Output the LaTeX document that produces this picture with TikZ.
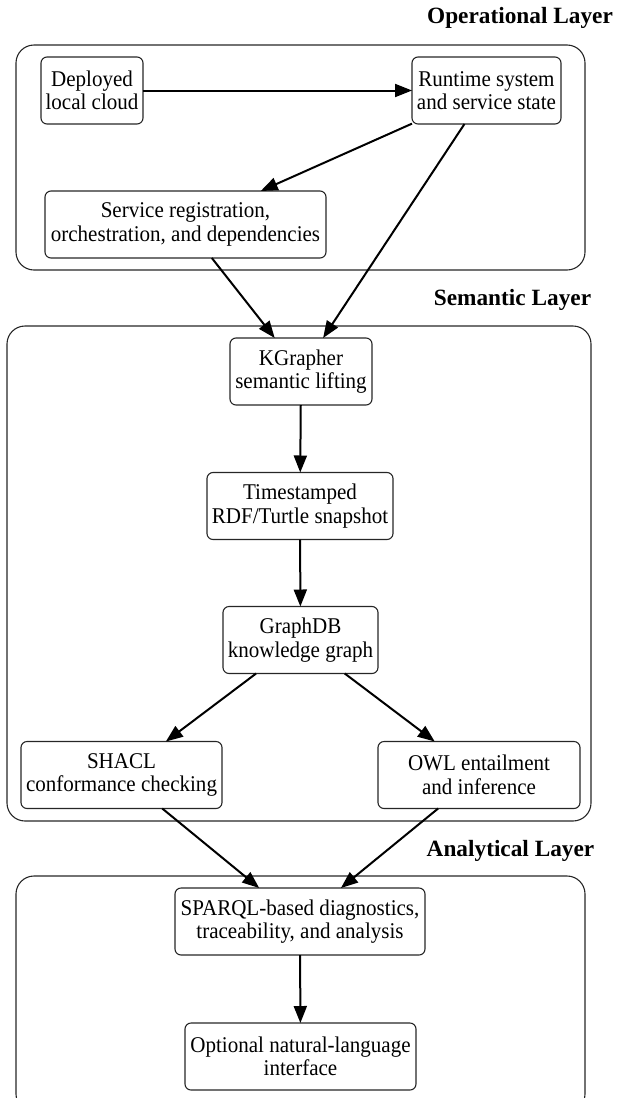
\documentclass[tikz,border=0pt]{standalone}
\usepackage{fontspec}
\setmainfont{Liberation Serif}
\newfontfamily\stagefont{Liberation Serif}[FakeStretch=0.935]
\usetikzlibrary{arrows.meta}

\tikzset{
  stage/.style={draw=black!85, line width=1.1pt, rounded corners=6pt,
    align=center, inner sep=2pt, outer sep=0pt, minimum height=67pt,
    font=\stagefont\fontsize{22.5}{23.5}\selectfont},
  layerbox/.style={draw=black!85, line width=1.1pt, rounded corners=18pt,
    inner sep=0pt, outer sep=0pt},
  layertitle/.style={font=\bfseries\fontsize{23.3}{28}\selectfont, inner sep=0pt},
  flow/.style={line width=2pt, -{Triangle[length=17pt,width=13pt]}},
}

\begin{document}
\begin{tikzpicture}[x=1pt, y=-1pt]
  \useasboundingbox (0,0) rectangle (626,1098);
  \clip (0,0) rectangle (626,1098);

  % layer frames and their titles
  \node[layerbox, minimum width=569pt, minimum height=225pt] (oplayer) at (300.5,157.5) {};
  \node[layerbox, minimum width=584pt, minimum height=495pt] (semlayer) at (299,573.5) {};
  \node[layerbox, minimum width=569pt, minimum height=236pt] (anlayer) at (300.5,994) {};

  \node[layertitle] (optitle)  at (520,18)  {Operational Layer};
  \node[layertitle] (semtitle) at (512.5,300) {Semantic Layer};
  \node[layertitle] (antitle)  at (510.5,851) {Analytical Layer};

  % operational layer
  \node[stage, minimum width=102pt] (deploy)  at (92,90.5)    {Deployed\\local cloud};
  \node[stage, minimum width=149pt] (runtime) at (486.5,90.5) {Runtime system\\and service state};
  \node[stage, minimum width=281pt] (service) at (185.5,224.5) {Service registration,\\orchestration, and dependencies};

  % semantic layer
  \node[stage, minimum width=142pt] (kgr)   at (301,371.5) {KGrapher\\semantic lifting};
  \node[stage, minimum width=186pt] (snap)  at (300,506)   {Timestamped\\RDF/Turtle snapshot};
  \node[stage, minimum width=155pt] (gdb)   at (300.5,640) {GraphDB\\knowledge graph};
  \node[stage, minimum width=201pt] (shacl) at (121.5,775) {SHACL\\conformance checking};
  \node[stage, minimum width=202pt] (owl)   at (479,775)   {OWL entailment\\and inference};

  % analytical layer
  \node[stage, minimum width=250pt] (sparql) at (300,921.5)  {SPARQL-based diagnostics,\\traceability, and analysis};
  \node[stage, minimum width=231pt] (nli)    at (300.5,1056.5) {Optional natural-language\\interface};

  % data flow
  \draw[flow] (deploy) -- (runtime);
  \draw[flow] (runtime) -- (service);
  \draw[flow] (runtime) -- (kgr);
  \draw[flow] (service) -- (kgr);
  \draw[flow] (kgr) -- (snap);
  \draw[flow] (snap) -- (gdb);
  \draw[flow] (gdb) -- (shacl);
  \draw[flow] (gdb) -- (owl);
  \draw[flow] (shacl) -- (sparql);
  \draw[flow] (owl) -- (sparql);
  \draw[flow] (sparql) -- (nli);
\end{tikzpicture}
\end{document}
